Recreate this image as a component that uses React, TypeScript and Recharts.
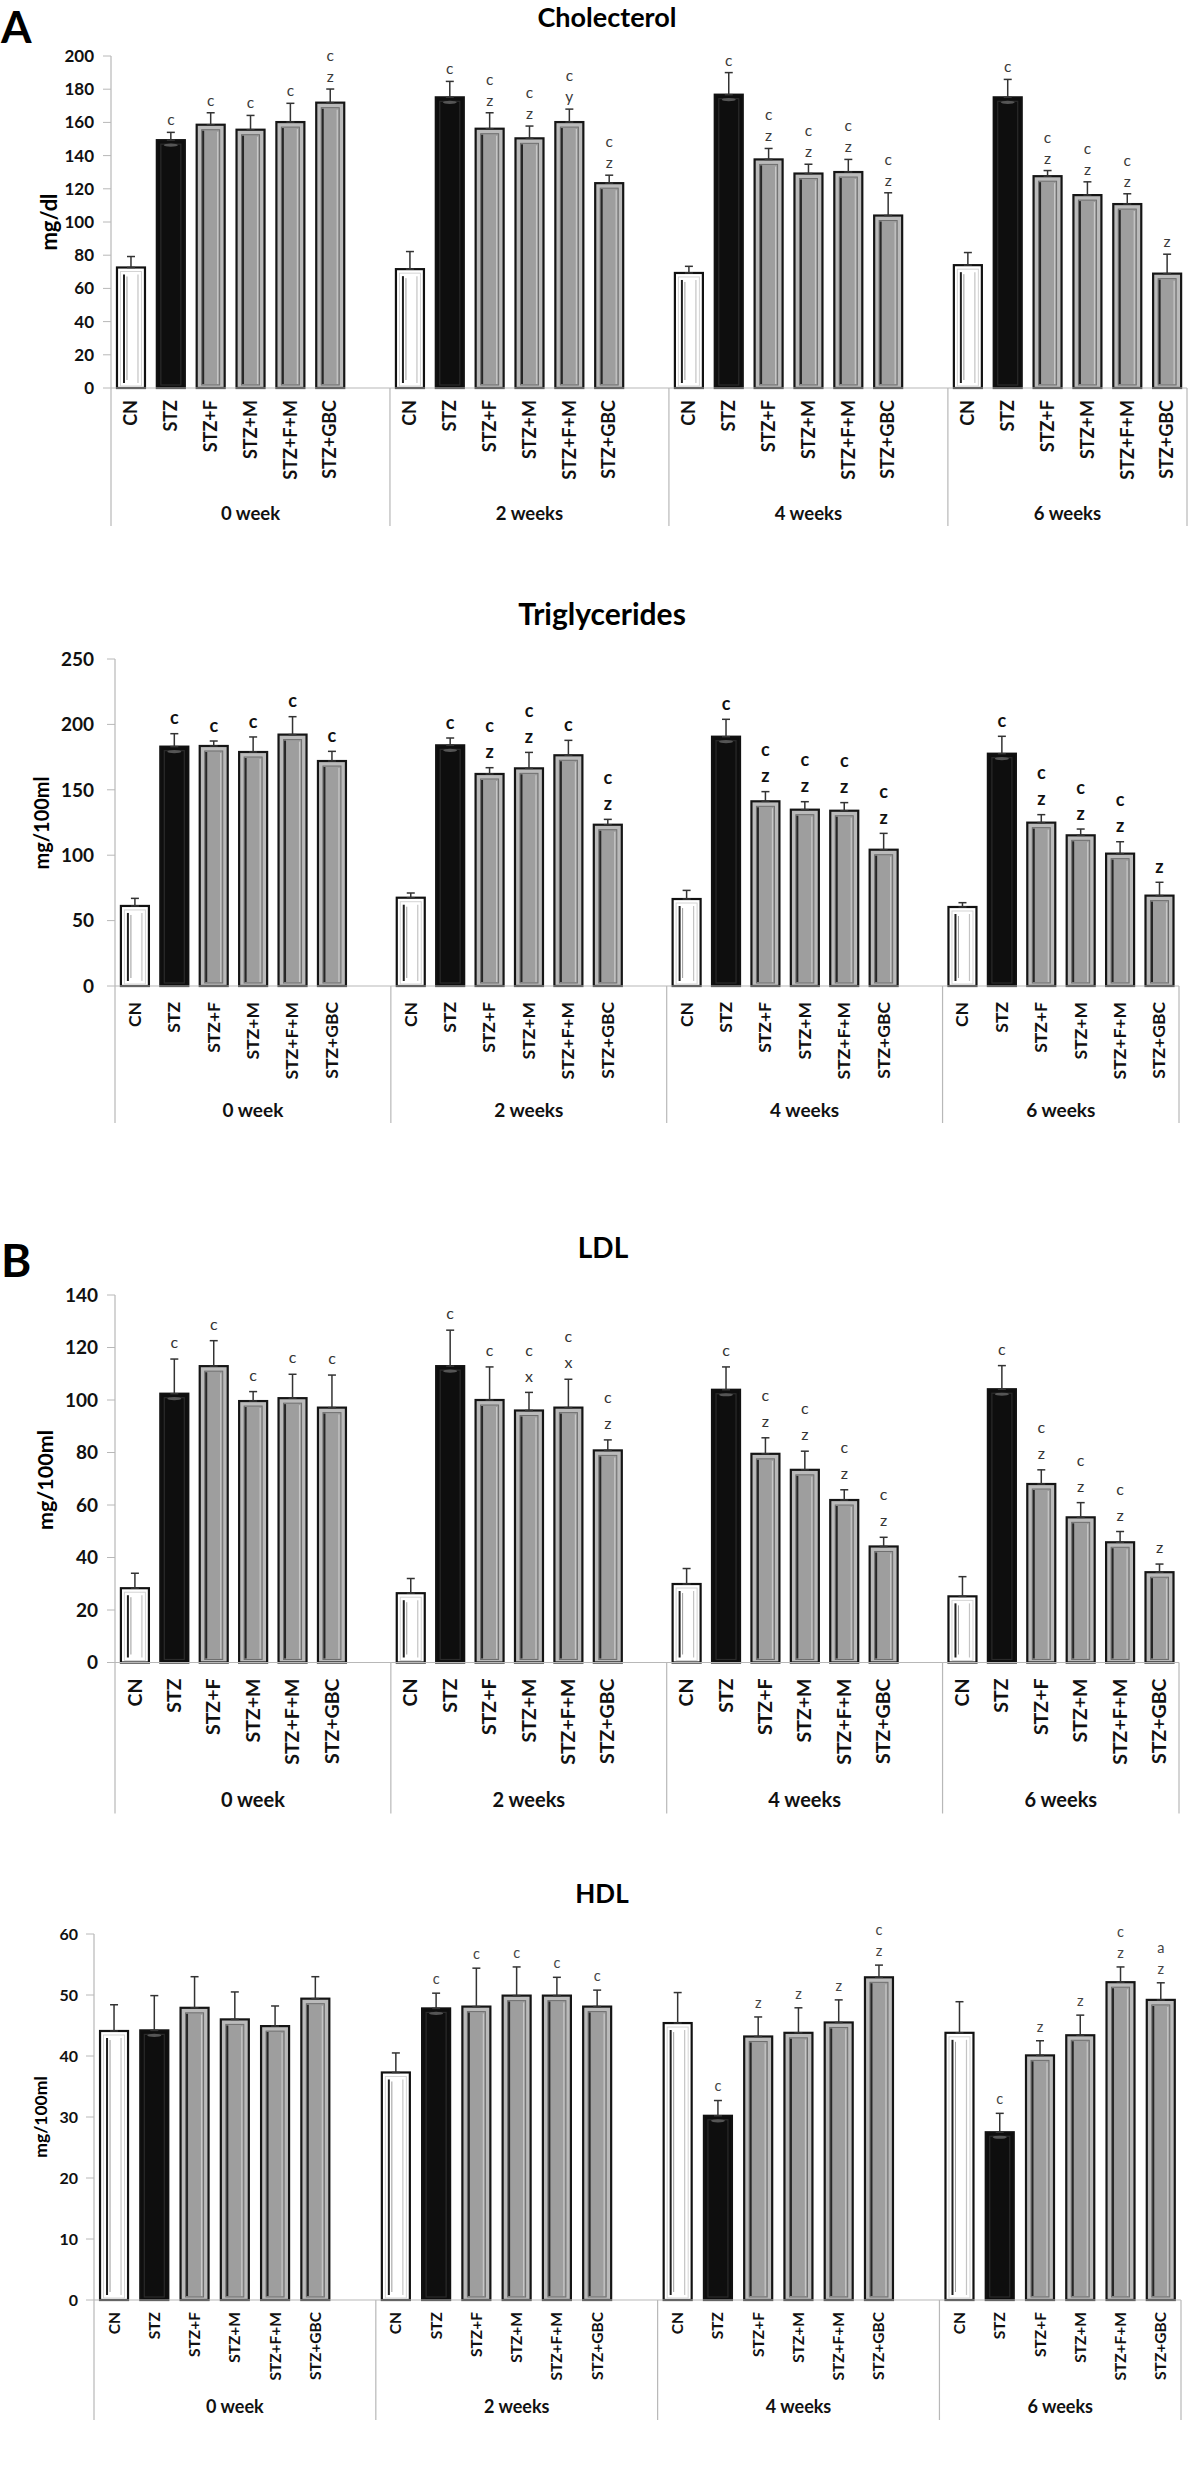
import React from 'react';
import { BarChart, Bar, XAxis, YAxis, ErrorBar } from 'recharts';

const FONT = 'Lato, "Open Sans", "DejaVu Sans", sans-serif';

// ---------- data ----------
const weeks = ['0 week', '2 weeks', '4 weeks', '6 weeks'];
const groups = ['CN', 'STZ', 'STZ+F', 'STZ+M', 'STZ+F+M', 'STZ+GBC'];

// Cholecterol (mg/dl)
const cholMean = [
  [72.6, 149.3, 158.6, 155.6, 160.2, 171.9],
  [71.6, 175.1, 156.2, 150.4, 160.2, 123.4],
  [69.3, 176.7, 137.7, 129.2, 130.1, 103.9],
  [74.0, 175.1, 127.6, 116.2, 110.8, 68.9],
];
const cholErr = [
  [6.6, 4.7, 7.2, 8.6, 11.3, 8.2],
  [10.6, 9.6, 9.6, 7.4, 7.8, 4.8],
  [4.0, 13.3, 6.6, 5.6, 7.6, 13.7],
  [7.6, 10.8, 3.4, 8.0, 6.2, 11.7],
];
const cholLetters = [
  ['', 'c', 'c', 'c', 'c', 'cz'],
  ['', 'c', 'cz', 'cz', 'cy', 'cz'],
  ['', 'c', 'cz', 'cz', 'cz', 'cz'],
  ['', 'c', 'cz', 'cz', 'cz', 'z'],
];

// Triglycerides (mg/100ml)
const trigMean = [
  [61.2, 183.0, 183.5, 178.9, 192.2, 172.0],
  [67.5, 184.0, 162.1, 166.4, 176.4, 123.3],
  [66.5, 190.6, 141.2, 134.8, 134.0, 104.2],
  [60.4, 177.6, 124.9, 115.2, 101.2, 69.1],
];
const trigErr = [
  [5.8, 9.9, 3.8, 11.5, 13.7, 7.4],
  [3.6, 5.6, 4.8, 12.2, 11.4, 4.1],
  [6.6, 13.3, 7.4, 6.1, 6.2, 12.5],
  [3.3, 13.3, 6.1, 4.8, 9.1, 10.2],
];
const trigLetters = [
  ['', 'c', 'c', 'c', 'c', 'c'],
  ['', 'c', 'cz', 'cz', 'c', 'cz'],
  ['', 'c', 'cz', 'cz', 'cz', 'cz'],
  ['', 'c', 'cz', 'cz', 'cz', 'z'],
];

// LDL (mg/100ml)
const ldlMean = [
  [28.3, 102.4, 112.9, 99.6, 100.7, 97.1],
  [26.4, 112.9, 100.0, 96.0, 97.1, 80.8],
  [29.9, 103.9, 79.5, 73.4, 61.9, 44.2],
  [25.2, 104.1, 68.0, 55.3, 45.8, 34.4],
];
const ldlErr = [
  [5.7, 13.2, 9.7, 3.6, 9.1, 12.4],
  [5.6, 13.7, 12.6, 6.9, 10.8, 4.0],
  [5.9, 8.7, 6.1, 7.1, 3.9, 3.5],
  [7.5, 9.0, 5.4, 5.6, 4.1, 3.1],
];
const ldlLetters = [
  ['', 'c', 'c', 'c', 'c', 'c'],
  ['', 'c', 'c', 'cx', 'cx', 'cz'],
  ['', 'c', 'cz', 'cz', 'cz', 'cz'],
  ['', 'c', 'cz', 'cz', 'cz', 'z'],
];

// HDL (mg/100ml)
const hdlMean = [
  [44.1, 44.2, 47.9, 46.0, 44.9, 49.4],
  [37.3, 47.8, 48.1, 49.9, 49.9, 48.1],
  [45.4, 30.2, 43.2, 43.8, 45.5, 52.9],
  [43.8, 27.5, 40.1, 43.4, 52.1, 49.2],
];
const hdlErr = [
  [4.3, 5.7, 5.1, 4.5, 3.3, 3.6],
  [3.2, 2.5, 6.3, 4.7, 3.0, 2.7],
  [5.0, 2.5, 3.2, 4.1, 3.7, 2.0],
  [5.1, 3.1, 2.4, 3.3, 2.5, 2.8],
];
const hdlLetters = [
  ['', '', '', '', '', ''],
  ['', 'c', 'c', 'c', 'c', 'c'],
  ['', 'c', 'z', 'z', 'z', 'cz'],
  ['', 'c', 'z', 'z', 'cz', 'az'],
];

const cholTicks = [0, 20, 40, 60, 80, 100, 120, 140, 160, 180, 200];
const trigTicks = [0, 50, 100, 150, 200, 250];
const ldlTicks = [0, 20, 40, 60, 80, 100, 120, 140];
const hdlTicks = [0, 10, 20, 30, 40, 50, 60];

// ---------- helpers ----------
type Row = {
  key: string; cat: string; week: string; w: number; kind: number;
  value: number | null; err: number | null; errRange: number[] | null; letters: string;
};

function buildRows(means: number[][], errs: number[][], letters: string[][]): Row[] {
  const rows: Row[] = [];
  weeks.forEach((wk, w) => {
    groups.forEach((g, i) => {
      rows.push({
        key: `${w}-${i}`, cat: g, week: wk, w, kind: i,
        value: means[w][i], err: errs[w][i], errRange: [0, errs[w][i]], letters: letters[w][i],
      });
    });
    if (w < weeks.length - 1) {
      rows.push({ key: `${w}-gap`, cat: '', week: wk, w, kind: -1, value: null, err: null, errRange: null, letters: '' });
    }
  });
  return rows;
}

function BevelBar(props: any) {
  const { x, y, width: w, height: h, payload, cfg } = props;
  if (!payload || payload.value == null || !(h > 0)) return null;
  const k = payload.kind;
  const parts: React.ReactNode[] = [];
  if (k === 0) {
    parts.push(<rect key="o" x={x} y={y} width={w} height={h} fill="#ffffff" stroke="#111" strokeWidth={2.2} />);
    parts.push(<rect key="f" x={x + 3.5} y={y + 4} width={w - 7} height={h - 6} fill="none" stroke="#d4d4d4" strokeWidth={1} />);
    parts.push(<line key="l1" x1={x + 7} y1={y + 7} x2={x + 7} y2={y + h - 5} stroke="#1e1e1e" strokeWidth={2} />);
    parts.push(<line key="l2" x1={x + 10} y1={y + 9} x2={x + 10} y2={y + h - 8} stroke="#9c9c9c" strokeWidth={1} />);
    parts.push(<line key="l3" x1={x + w - 7} y1={y + 7} x2={x + w - 7} y2={y + h - 5} stroke="#c4c4c4" strokeWidth={1.2} />);
  } else if (k === 1) {
    parts.push(<rect key="o" x={x} y={y} width={w} height={h} fill="#0e0e0e" stroke="#111" strokeWidth={2.2} />);
    parts.push(<rect key="i" x={x + 4} y={y + 4} width={w - 8} height={h - 7} fill="none" stroke="#2a2a2a" strokeWidth={1.2} />);
    parts.push(<ellipse key="e" cx={x + w / 2} cy={y + 5} rx={w / 4} ry={1.6} fill="#555" />);
  } else {
    parts.push(<rect key="o" x={x} y={y} width={w} height={h} fill="#bababa" stroke="#151515" strokeWidth={2.2} />);
    parts.push(<rect key="i" x={x + 5} y={y + 5} width={w - 10} height={h - 8} fill="#9e9e9e" stroke="#6e6e6e" strokeWidth={1} />);
    parts.push(<line key="l1" x1={x + 6.5} y1={y + 6} x2={x + 6.5} y2={y + h - 4} stroke="#262626" strokeWidth={2} />);
    parts.push(<line key="l2" x1={x + w - 7} y1={y + 7} x2={x + w - 7} y2={y + h - 4} stroke="#c8c8c8" strokeWidth={1.2} />);
  }
  const letters: string = payload.letters || '';
  if (letters && cfg) {
    const errPx = (payload.err || 0) * h / payload.value;
    const topY = y - errPx;
    const n = letters.length;
    letters.split('').forEach((ch: string, j: number) => {
      const cy = topY - cfg.letterGap - (n - 1 - j) * cfg.letterStep;
      parts.push(
        <text key={`t${j}`} x={x + w / 2} y={cy + cfg.letterFont * 0.26} textAnchor="middle"
          fontFamily={FONT} fontSize={cfg.letterFont} fontWeight={cfg.letterWeight} fill={cfg.letterColor}>
          {ch}
        </text>
      );
    });
  }
  return <g>{parts}</g>;
}

function makeTick(rows: Row[], cfg: any) {
  return (props: any) => {
    const { x, y, payload } = props;
    const idx = payload && payload.index != null ? payload.index : props.index;
    const row = rows[idx];
    if (!row) return null;
    const count = props.visibleTicksCount || rows.length;
    const plotW = props.width || (1189 - cfg.left - cfg.right);
    const slot = plotW / count;
    const els: React.ReactNode[] = [];
    if (row.cat) {
      els.push(
        <text key="c" x={x} y={y + cfg.labOff} dy="0.35em" textAnchor="end"
          transform={`rotate(-90, ${x}, ${y + cfg.labOff})`}
          fontFamily={FONT} fontSize={cfg.labFont} fontWeight={700} fill="#111">
          {row.cat}
        </text>
      );
    }
    if (row.kind === 0) {
      const nSlots = row.w < weeks.length - 1 ? 7 : 6;
      els.push(<line key="s" x1={x - slot / 2} y1={y} x2={x - slot / 2} y2={y + cfg.sepLen} stroke="#b8b8b8" strokeWidth={1.2} />);
      els.push(
        <text key="g" x={x - slot / 2 + (nSlots * slot) / 2} y={y + cfg.groupOff + cfg.groupFont * 0.36} textAnchor="middle"
          fontFamily={FONT} fontSize={cfg.groupFont} fontWeight={700} fill="#111">
          {row.week}
        </text>
      );
    }
    if (idx === rows.length - 1) {
      els.push(<line key="e" x1={x + slot / 2} y1={y} x2={x + slot / 2} y2={y + cfg.sepLen} stroke="#b8b8b8" strokeWidth={1.2} />);
    }
    return <g>{els}</g>;
  };
}

// ---------- panel layouts ----------
const panels = [
  {
    id: 'chol', rows: buildRows(cholMean, cholErr, cholLetters), ticks: cholTicks,
    top: 0, marginTop: 56, plotH: 332, xAxisH: 142, left: 111, right: 2,
    tickFont: 17, tickMargin: 9, labOff: 12, labFont: 18, groupOff: 125, groupFont: 18.5, sepLen: 138,
    letterFont: 15.5, letterGap: 11, letterStep: 21, letterColor: '#3a3a3a', letterWeight: 400,
  },
  {
    id: 'trig', rows: buildRows(trigMean, trigErr, trigLetters), ticks: trigTicks,
    top: 620, marginTop: 39, plotH: 327, xAxisH: 142, left: 115, right: 10,
    tickFont: 19, tickMargin: 13, labOff: 16, labFont: 17.5, groupOff: 124, groupFont: 19, sepLen: 137,
    letterFont: 18, letterGap: 14, letterStep: 26, letterColor: '#111', letterWeight: 700,
  },
  {
    id: 'ldl', rows: buildRows(ldlMean, ldlErr, ldlLetters), ticks: ldlTicks,
    top: 1240, marginTop: 55, plotH: 367.5, xAxisH: 156, left: 115, right: 10,
    tickFont: 19, tickMargin: 9, labOff: 16, labFont: 19.5, groupOff: 137, groupFont: 20, sepLen: 151,
    letterFont: 16, letterGap: 15, letterStep: 26, letterColor: '#333', letterWeight: 400,
  },
  {
    id: 'hdl', rows: buildRows(hdlMean, hdlErr, hdlLetters), ticks: hdlTicks,
    top: 1900, marginTop: 34, plotH: 366, xAxisH: 125, left: 94, right: 8,
    tickFont: 16, tickMargin: 8, labOff: 12, labFont: 15.5, groupOff: 107, groupFont: 18, sepLen: 120,
    letterFont: 14.5, letterGap: 13, letterStep: 21, letterColor: '#444', letterWeight: 400,
  },
];

const titles = [
  { text: 'Cholecterol', x: 607, cy: 17, fs: 27 },
  { text: 'Triglycerides', x: 602, cy: 614, fs: 30 },
  { text: 'LDL', x: 603, cy: 1248, fs: 28 },
  { text: 'HDL', x: 602, cy: 1894, fs: 26 },
];
const units = [
  { text: 'mg/dl', cx: 50, cy: 222, fs: 22 },
  { text: 'mg/100ml', cx: 43, cy: 823, fs: 20 },
  { text: 'mg/100ml', cx: 47, cy: 1480, fs: 21.5 },
  { text: 'mg/100ml', cx: 42, cy: 2117, fs: 17.5 },
];
const letterMarks = [
  { text: 'A', x: 1, cy: 27, fs: 44 },
  { text: 'B', x: 1, cy: 1260, fs: 46 },
];

function Panel({ cfg }: { cfg: any }) {
  const height = cfg.marginTop + cfg.plotH + cfg.xAxisH;
  const yMax = cfg.ticks[cfg.ticks.length - 1];
  const Tick = makeTick(cfg.rows, cfg);
  return (
    <div style={{ position: 'absolute', top: cfg.top, left: 0 }}>
      <BarChart width={1189} height={height} data={cfg.rows}
        margin={{ top: cfg.marginTop, right: cfg.right, bottom: 0, left: 0 }}
        barCategoryGap="15%">
        <XAxis dataKey="key" type="category" interval={0} height={cfg.xAxisH}
          axisLine={{ stroke: '#b8b8b8', strokeWidth: 1.2 }} tickLine={false} tickSize={0} tickMargin={0}
          tick={<Tick />} />
        <YAxis type="number" domain={[0, yMax]} ticks={cfg.ticks} interval={0} width={cfg.left}
          axisLine={{ stroke: '#b8b8b8', strokeWidth: 1.2 }} tickLine={{ stroke: '#b8b8b8' }} tickSize={8}
          tickMargin={cfg.tickMargin}
          tick={{ fontFamily: FONT, fontSize: cfg.tickFont, fontWeight: 700, fill: '#111' }} />
        <Bar dataKey="value" isAnimationActive={false}
          shape={(p: any) => <BevelBar {...p} cfg={cfg} />}>
          <ErrorBar dataKey="errRange" width={4} strokeWidth={1.5} stroke="#333" />
        </Bar>
      </BarChart>
    </div>
  );
}

export default function App() {
  return (
    <div style={{ position: 'absolute', top: 0, left: 0, width: 1189, height: 2481, background: '#fff', overflow: 'hidden' }}>
      {panels.map((p) => <Panel key={p.id} cfg={p} />)}
      <svg width={1189} height={2481} style={{ position: 'absolute', top: 0, left: 0, pointerEvents: 'none' }}>
        {letterMarks.map((m) => (
          <text key={m.text} x={m.x} y={m.cy + m.fs * 0.36} fontFamily={FONT} fontSize={m.fs} fontWeight={700} fill="#000">{m.text}</text>
        ))}
        {titles.map((t) => (
          <text key={t.text} x={t.x} y={t.cy + t.fs * 0.36} textAnchor="middle" fontFamily={FONT} fontSize={t.fs} fontWeight={700} fill="#000">{t.text}</text>
        ))}
        {units.map((u, i) => (
          <text key={i} x={u.cx} y={u.cy} dy="0.3em" textAnchor="middle" transform={`rotate(-90, ${u.cx}, ${u.cy})`}
            fontFamily={FONT} fontSize={u.fs} fontWeight={700} fill="#000">{u.text}</text>
        ))}
      </svg>
    </div>
  );
}
